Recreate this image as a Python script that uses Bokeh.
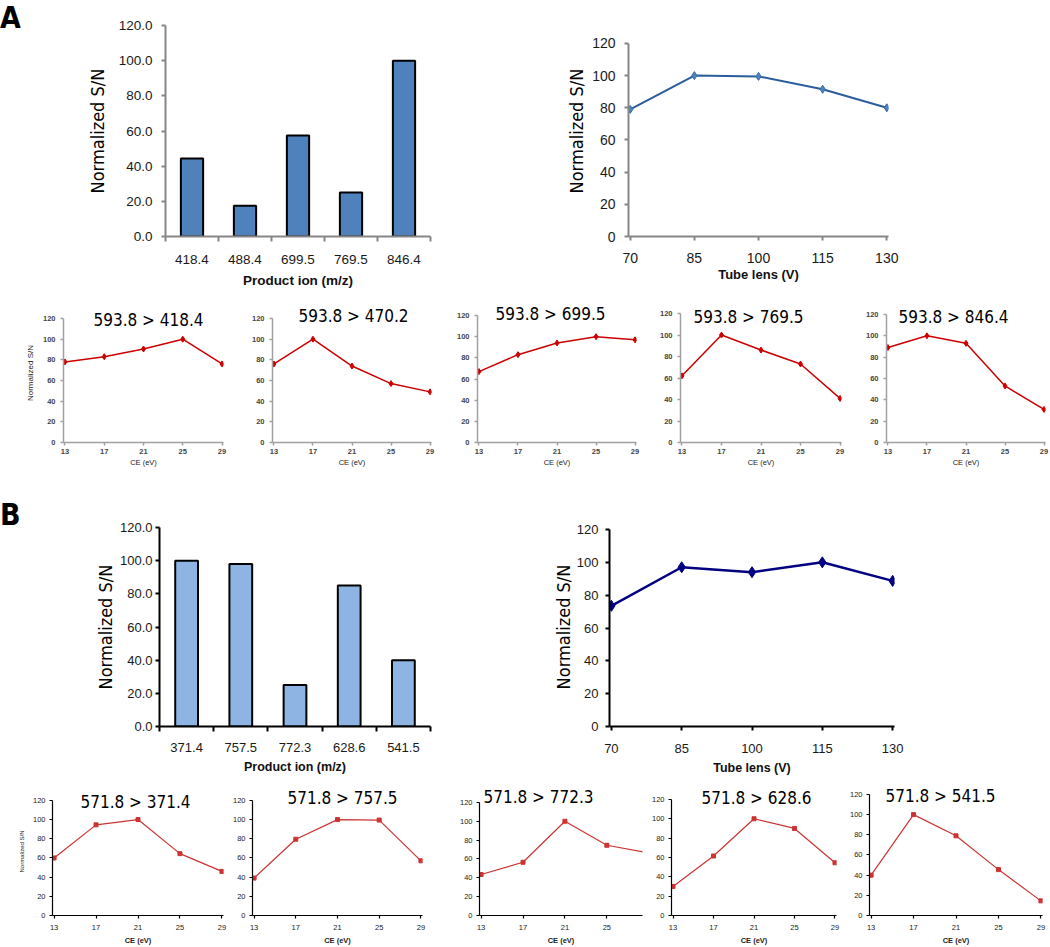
from bokeh.plotting import figure
from bokeh.layouts import column, row
from bokeh.models import FixedTicker, NumeralTickFormatter, Label, Range1d, Div
from bokeh.embed import file_html
from bokeh.resources import INLINE

# ---------------- data ----------------
a_ions = ["418.4", "488.4", "699.5", "769.5", "846.4"]
a_ion_sn = [44.4, 17.5, 57.4, 25.0, 100.0]
b_ions = ["371.4", "757.5", "772.3", "628.6", "541.5"]
b_ion_sn = [100.0, 98.0, 25.0, 85.0, 40.0]

tube_lens_v = [70, 85, 100, 115, 130]
a_tube_sn = [79.0, 100.0, 99.5, 91.5, 80.0]
b_tube_sn = [73.5, 97.0, 94.0, 100.0, 88.7]

ce_ev = [13, 17, 21, 25, 29]
ce_ticks = [13, 17, 21, 25, 29]
sn_ticks = [0, 20, 40, 60, 80, 100, 120]

a_titles = ["593.8 > 418.4", "593.8 > 470.2", "593.8 > 699.5", "593.8 > 769.5", "593.8 > 846.4"]
a_ce_418 = [78, 83, 90.5, 100, 76]
a_ce_470 = [76, 100, 74, 57, 49]
a_ce_699 = [67, 83, 94, 100, 97]
a_ce_769 = [62, 100, 86, 73, 41]
a_ce_846 = [89, 100, 93, 53, 31]

b_titles = ["571.8 > 371.4", "571.8 > 757.5", "571.8 > 772.3", "571.8 > 628.6", "571.8 > 541.5"]
b_ce_371 = [60, 94.5, 100, 64.5, 46]
b_ce_757 = [39, 79.5, 100, 99.5, 57]
b_ce_772 = [43.5, 56.5, 100, 74.5, 66.5]
b_ce_628 = [30, 61.5, 100, 90, 54.5]
b_ce_541 = [40, 100, 79, 45.5, 14.5]

# ---------------- layout / style ----------------
NARROW = "DejaVu Sans Condensed"
ARIAL = "Liberation Sans"

# small panels: (left border, frame width, right border)
row_a_geom = [(63, 160, 6), (43, 159, 6), (40, 159, 6), (38, 161, 6), (39, 159, 5)]
row_a_y120 = [318, 318, 315, 313, 314]      # pixel row of the 120 tick
row_a_title_dx = [85, 81, 73, 68, 67]
row_a_title_y = [319, 315, 313, 316, 316]   # pixel row of title centre
row_b_geom = [(52, 171, 6), (22, 171, 6), (51, 163, 6), (19, 169, 6), (27, 173, 8)]
row_b_y120 = [800, 800, 802, 799, 794]
row_b_xmax = [29, 29, 28.4, 29, 29]
row_b_title_dx = [83, 90, 59, 85, 71]
row_b_title_y = [802, 798, 797, 798, 796]


def make_fig(width, height, left, right, top, bottom, x_range, y_range):
    p = figure(width=width, height=height, x_range=x_range, y_range=y_range,
               min_border_left=left, min_border_right=right,
               min_border_top=top, min_border_bottom=bottom,
               toolbar_location=None, tools="", output_backend="svg", title=None)
    p.outline_line_color = None
    p.xgrid.visible = False
    p.ygrid.visible = False
    p.background_fill_color = "white"
    p.border_fill_color = "white"
    return p


def style_axis(ax, color, lw, tick_out, standoff, font, size, tcolor, tstyle="normal"):
    ax.axis_line_color = color
    ax.axis_line_width = lw
    ax.major_tick_line_color = color
    ax.major_tick_line_width = lw
    ax.major_tick_out = tick_out
    ax.major_tick_in = 0
    ax.minor_tick_line_color = None
    ax.major_label_standoff = standoff
    ax.major_label_text_font = font
    ax.major_label_text_font_size = size
    ax.major_label_text_color = tcolor
    ax.major_label_text_font_style = tstyle


def axis_title(ax, text, font, size, style, color, standoff):
    ax.axis_label = text
    ax.axis_label_text_font = font
    ax.axis_label_text_font_size = size
    ax.axis_label_text_font_style = style
    ax.axis_label_text_color = color
    ax.axis_label_standoff = standoff


def y_top(frame_top, frame_bottom, y120):
    # data value at the frame top so that 120 lands on pixel row y120
    return 120.0 * (frame_bottom - frame_top) / (frame_bottom - y120)


def bar_panel(ions, sn, fill, width, height, left, right, top, bottom,
              color, lw, tick_size, y_standoff, ylab_standoff, x_standoff, xlab_standoff,
              xlab_size):
    n = len(ions)
    xs = [i + 0.5 for i in range(n)]
    p = make_fig(width, height, left, right, top, bottom, Range1d(0, n), Range1d(0, 120))
    p.vbar(x=xs, top=sn, bottom=0, width=0.42, fill_color=fill,
           line_color="black", line_width=2)
    p.xaxis.ticker = FixedTicker(ticks=xs, minor_ticks=list(range(n + 1)))
    p.xaxis.major_label_overrides = dict(zip(xs, ions))
    style_axis(p.xaxis[0], color, lw, 0, x_standoff, ARIAL, tick_size, "#1a1a1a")
    p.xaxis.minor_tick_line_color = color
    p.xaxis.minor_tick_line_width = lw
    p.xaxis.minor_tick_out = 5
    p.xaxis.minor_tick_in = 0
    axis_title(p.xaxis[0], "Product ion (m/z)", ARIAL, xlab_size, "bold", "#111111", xlab_standoff)
    p.yaxis.ticker = FixedTicker(ticks=sn_ticks)
    p.yaxis.formatter = NumeralTickFormatter(format="0.0")
    style_axis(p.yaxis[0], color, lw, 4, y_standoff, ARIAL, tick_size, "#1a1a1a")
    axis_title(p.yaxis[0], "Normalized S/N", NARROW, "18px", "normal", "#000000", ylab_standoff)
    return p


def tube_panel(sn, width, height, left, right, top, bottom, ytop, color, lw,
               line_color, line_w, m_fill, m_line, m_size, tick_size,
               y_standoff, ylab_standoff, x_standoff, xlab_standoff, xlab_size):
    p = make_fig(width, height, left, right, top, bottom, Range1d(69.6, 130.4), Range1d(0, ytop))
    p.line(tube_lens_v, sn, line_color=line_color, line_width=line_w)
    p.scatter(tube_lens_v, sn, marker="diamond", size=m_size, fill_color=m_fill,
              line_color=m_line, line_width=1)
    p.xaxis.ticker = FixedTicker(ticks=tube_lens_v)
    style_axis(p.xaxis[0], color, lw, 4, x_standoff, ARIAL, tick_size, "#1a1a1a")
    axis_title(p.xaxis[0], "Tube lens (V)", ARIAL, xlab_size, "bold", "#111111", xlab_standoff)
    p.yaxis.ticker = FixedTicker(ticks=sn_ticks)
    p.yaxis.bounds = (0, 120)
    style_axis(p.yaxis[0], color, lw, 4, y_standoff, ARIAL, tick_size, "#1a1a1a")
    axis_title(p.yaxis[0], "Normalized S/N", NARROW, "18px", "normal", "#000000", ylab_standoff)
    return p


def ce_panel(sn, title, geom, row_top, top, bottom_px, total_h, y120, xmax, dx, ty,
             axis_color, lw, tick_color, tick_style, line_color, line_w, marker, m_size,
             ce_style, ce_size, ce_standoff, x_standoff, ylabel, ylabel_size, y_standoff):
    left, fw, right = geom
    width = left + fw + right
    frame_top = row_top + top
    bottom = row_top + total_h - bottom_px
    ytop = y_top(frame_top, bottom_px, y120)
    p = make_fig(width, total_h, left, right, top, bottom,
                 Range1d(12.85, xmax + (0.15 if xmax == 29 else 0)), Range1d(0, ytop))
    p.line(ce_ev, sn, line_color=line_color, line_width=line_w)
    p.scatter(ce_ev, sn, marker=marker, size=m_size, fill_color=line_color,
              line_color=line_color)
    p.xaxis.ticker = FixedTicker(ticks=ce_ticks)
    style_axis(p.xaxis[0], axis_color, lw, 3, x_standoff, ARIAL, "7.5px", tick_color, tick_style)
    axis_title(p.xaxis[0], "CE (eV)", ARIAL, ce_size, ce_style, "#222222", ce_standoff)
    p.yaxis.ticker = FixedTicker(ticks=sn_ticks)
    p.yaxis.bounds = (0, 120)
    style_axis(p.yaxis[0], axis_color, lw, 3, y_standoff, ARIAL, "7.5px", tick_color, tick_style)
    if ylabel:
        axis_title(p.yaxis[0], "Normalized S/N", ARIAL, ylabel_size, "normal", "#222222", 5)
    p.add_layout(Label(x=dx, y=bottom_px - ty, x_units="screen", y_units="screen", text=title,
                       text_font=NARROW, text_font_size="17px", text_color="#000000",
                       text_align="center", text_baseline="middle"))
    return p


def letter(text, height, pad):
    return Div(text=text, width=20, height=height, margin=(0, 0, 0, 0),
               styles={"font-family": NARROW, "font-size": "30px", "font-weight": "bold",
                       "line-height": "1", "padding-top": f"{pad}px", "color": "#000000"})


# ---------------- row 1: A bar + A tube lens (rows 0..290) ----------------
pa_bar = bar_panel(a_ions, a_ion_sn, "#4F81BD", 500, 290, 145, 90, 25, 53,
                   "#868686", 2, "13.5px", 9, 8, 13, 6, "13.5px")
pa_tube = tube_panel(a_tube_sn, 530, 290, 108, 162, 25, 53, y_top(25, 237, 43),
                     "#868686", 2, "#2B5C9E", 2, "#4F81BD", "#3A6CA8", 8, "14px",
                     9, 2, 12, 1, "13px")

# ---------------- row 2: A CE panels (rows 290..490) ----------------
a_ce = [a_ce_418, a_ce_470, a_ce_699, a_ce_769, a_ce_846]
a_small = []
for i in range(5):
    a_small.append(ce_panel(a_ce[i], a_titles[i], row_a_geom[i], 290, 13, 442, 200,
                            row_a_y120[i], 29, row_a_title_dx[i], row_a_title_y[i],
                            "#A0A0A0", 1.5, "#444444", "bold", "#CC0000", 1.5, "diamond", 6,
                            "normal", "7.5px", 1, 3, i == 0, "8px", 5))

# ---------------- row 3: B bar + B tube lens (rows 490..785) ----------------
pb_bar = bar_panel(b_ions, b_ion_sn, "#8DB4E2", 500, 295, 139, 90, 37, 59,
                   "#000000", 2, "13px", 3, 1, 11, 5, "12.5px")
pb_tube = tube_panel(b_tube_sn, 530, 295, 89, 156, 37, 59, y_top(527, 726, 529),
                     "#000000", 2, "#000080", 2.5, "#000080", "#000080", 11, "13px",
                     7, 0, 13, 5, "12.5px")

# ---------------- row 4: B CE panels (rows 785..947) ----------------
b_ce = [b_ce_371, b_ce_757, b_ce_772, b_ce_628, b_ce_541]
b_small = []
for i in range(5):
    b_small.append(ce_panel(b_ce[i], b_titles[i], row_b_geom[i], 785, 2, 916, 162,
                            row_b_y120[i], row_b_xmax[i], row_b_title_dx[i], row_b_title_y[i],
                            "#000000", 1.2, "#222222", "normal", "#CC3333", 1.2,
                            "square", 4, "bold", "7.5px", 3, 6, i == 0, "6px", 4))

layout = column(
    row(letter("A", 290, 3), pa_bar, pa_tube),
    row(*a_small),
    row(letter("B", 295, 10), pb_bar, pb_tube),
    row(*b_small),
)

open("out.html", "w").write(file_html(layout, INLINE))
